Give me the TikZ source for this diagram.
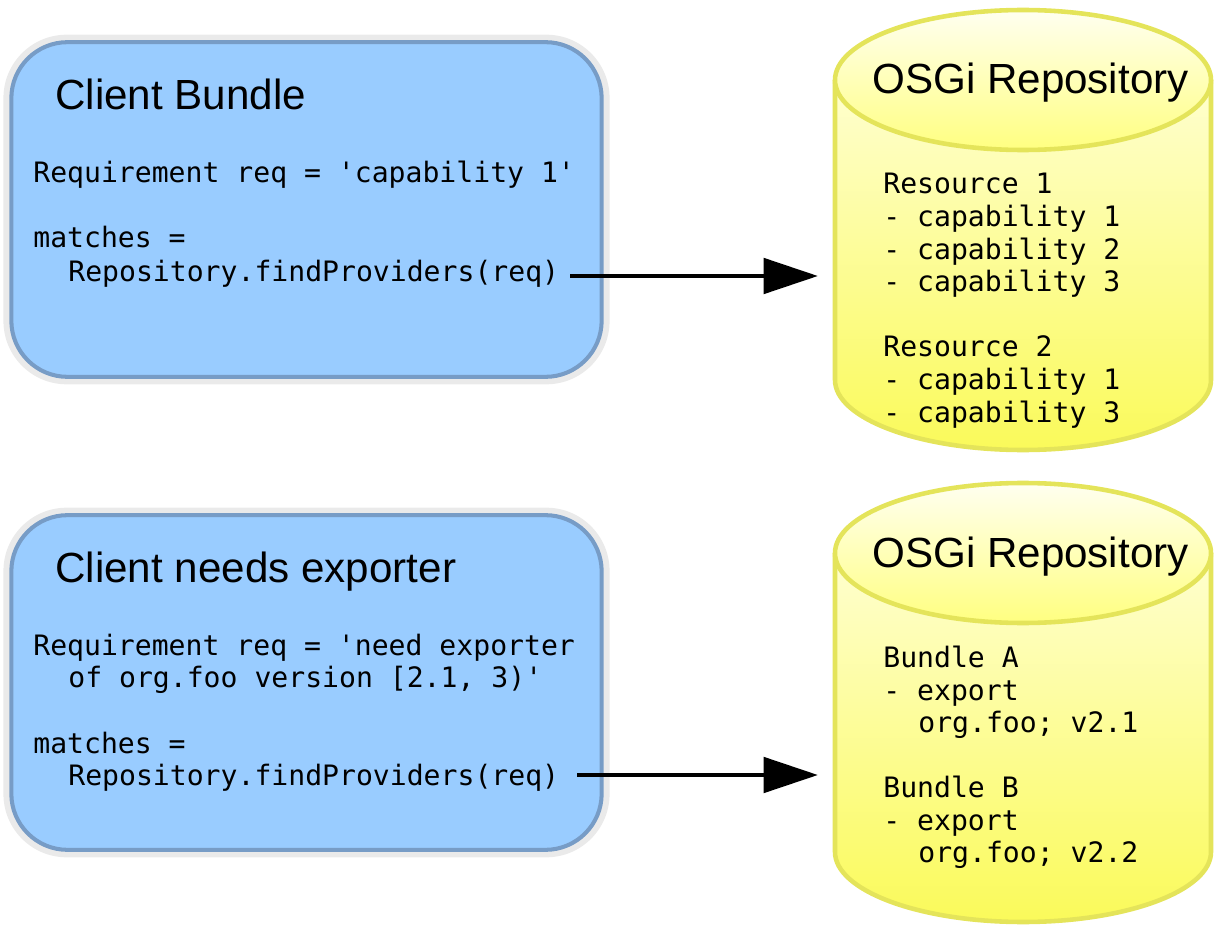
\documentclass[tikz,border=0pt]{standalone}
\usepackage{fontspec}
\setmainfont{Liberation Sans}
\newfontfamily\codefont{DejaVu Sans Mono}
\usetikzlibrary{arrows.meta,shadings}
\definecolor{boxfill}{HTML}{99CCFF}
\definecolor{boxline}{HTML}{779CC6}
\definecolor{halo}{HTML}{EAEAEA}
\definecolor{cylline}{HTML}{E4E45A}
\definecolor{cyltop}{HTML}{FFFFF0}
\definecolor{cylmid}{HTML}{FFFF80}
\definecolor{cylbodytop}{HTML}{FFFFD0}
\definecolor{cylbodybot}{HTML}{FAFA5A}
\begin{document}
\begin{tikzpicture}[x=0.02cm,y=-0.02cm,
  code/.style={font=\codefont\fontsize{16}{19}\selectfont, inner sep=0, anchor=base west},
  title/.style={font=\fontsize{24}{28}\selectfont, inner sep=0, anchor=base west},
  clientbox/.style={fill=boxfill, draw=boxline, line width=2.3pt, rounded corners=32pt,
    minimum width=336pt, minimum height=190.5pt, inner sep=0},
  halobox/.style={fill=halo, rounded corners=36pt,
    minimum width=345pt, minimum height=199pt, inner sep=0},
  cylborder/.style={draw=cylline, line width=2.6pt},
  flow/.style={line width=2.8pt, -{Triangle[length=31pt,width=20pt]}}
]
\useasboundingbox (0,0) rectangle (1225,926);

% ---------- client boxes ----------
\node[halobox] (halo1) at (306.5,209.5) {};
\node[clientbox] (client1) at (306.5,209.5) {};
\node[halobox] (halo2) at (306.5,682.5) {};
\node[clientbox] (client2) at (306.5,682.5) {};

\node[title] (t1) at (55,110) {Client Bundle};
\node[code] (c1a) at (33,183) {Requirement req = 'capability 1'};
\node[code] (c1b) at (33,248) {matches =};
\node[code] (c1c) at (68,281) {Repository.findProviders(req)};

\node[title] (t2) at (55,582) {Client needs exporter};
\node[code] (c2a) at (33,655) {Requirement req = 'need exporter};
\node[code] (c2b) at (68,687) {of org.foo version [2.1, 3)'};
\node[code] (c2c) at (33,753) {matches =};
\node[code] (c2d) at (68,785) {Repository.findProviders(req)};

% ---------- cylinder 1 ----------
\path[top color=cylbodytop, bottom color=cylbodybot]
  (835,80) -- (835,380) arc[start angle=180,end angle=0,x radius=188,y radius=70] -- (1211,80) -- cycle;
\draw[cylborder] (835,80) -- (835,380) arc[start angle=180,end angle=0,x radius=188,y radius=70] -- (1211,80);
\draw[cylborder, top color=cyltop, bottom color=cylmid] (1023,80) ellipse[x radius=188, y radius=70];
\coordinate (cyl1in) at (818,276);

\node[title] (r1) at (872,94) {OSGi Repository};
\node[code] (r1a) at (883,194) {Resource 1};
\node[code] (r1b) at (883,227) {- capability 1};
\node[code] (r1c) at (883,259) {- capability 2};
\node[code] (r1d) at (883,292) {- capability 3};
\node[code] (r1e) at (883,357) {Resource 2};
\node[code] (r1f) at (883,389) {- capability 1};
\node[code] (r1g) at (883,422) {- capability 3};

% ---------- cylinder 2 ----------
\path[top color=cylbodytop, bottom color=cylbodybot]
  (835,553) -- (835,852) arc[start angle=180,end angle=0,x radius=188,y radius=70] -- (1211,553) -- cycle;
\draw[cylborder] (835,553) -- (835,852) arc[start angle=180,end angle=0,x radius=188,y radius=70] -- (1211,553);
\draw[cylborder, top color=cyltop, bottom color=cylmid] (1023,553) ellipse[x radius=188, y radius=70];
\coordinate (cyl2in) at (818,775);

\node[title] (r2) at (872,567) {OSGi Repository};
\node[code] (r2a) at (883,667) {Bundle A};
\node[code] (r2b) at (883,700) {- export};
\node[code] (r2c) at (918,732) {org.foo; v2.1};
\node[code] (r2d) at (883,797) {Bundle B};
\node[code] (r2e) at (883,830) {- export};
\node[code] (r2f) at (918,862) {org.foo; v2.2};

% ---------- arrows ----------
\coordinate (a1s) at (570,276);
\coordinate (a2s) at (577,775);
\draw[flow] (a1s) -- (cyl1in);
\draw[flow] (a2s) -- (cyl2in);
\end{tikzpicture}
\end{document}
